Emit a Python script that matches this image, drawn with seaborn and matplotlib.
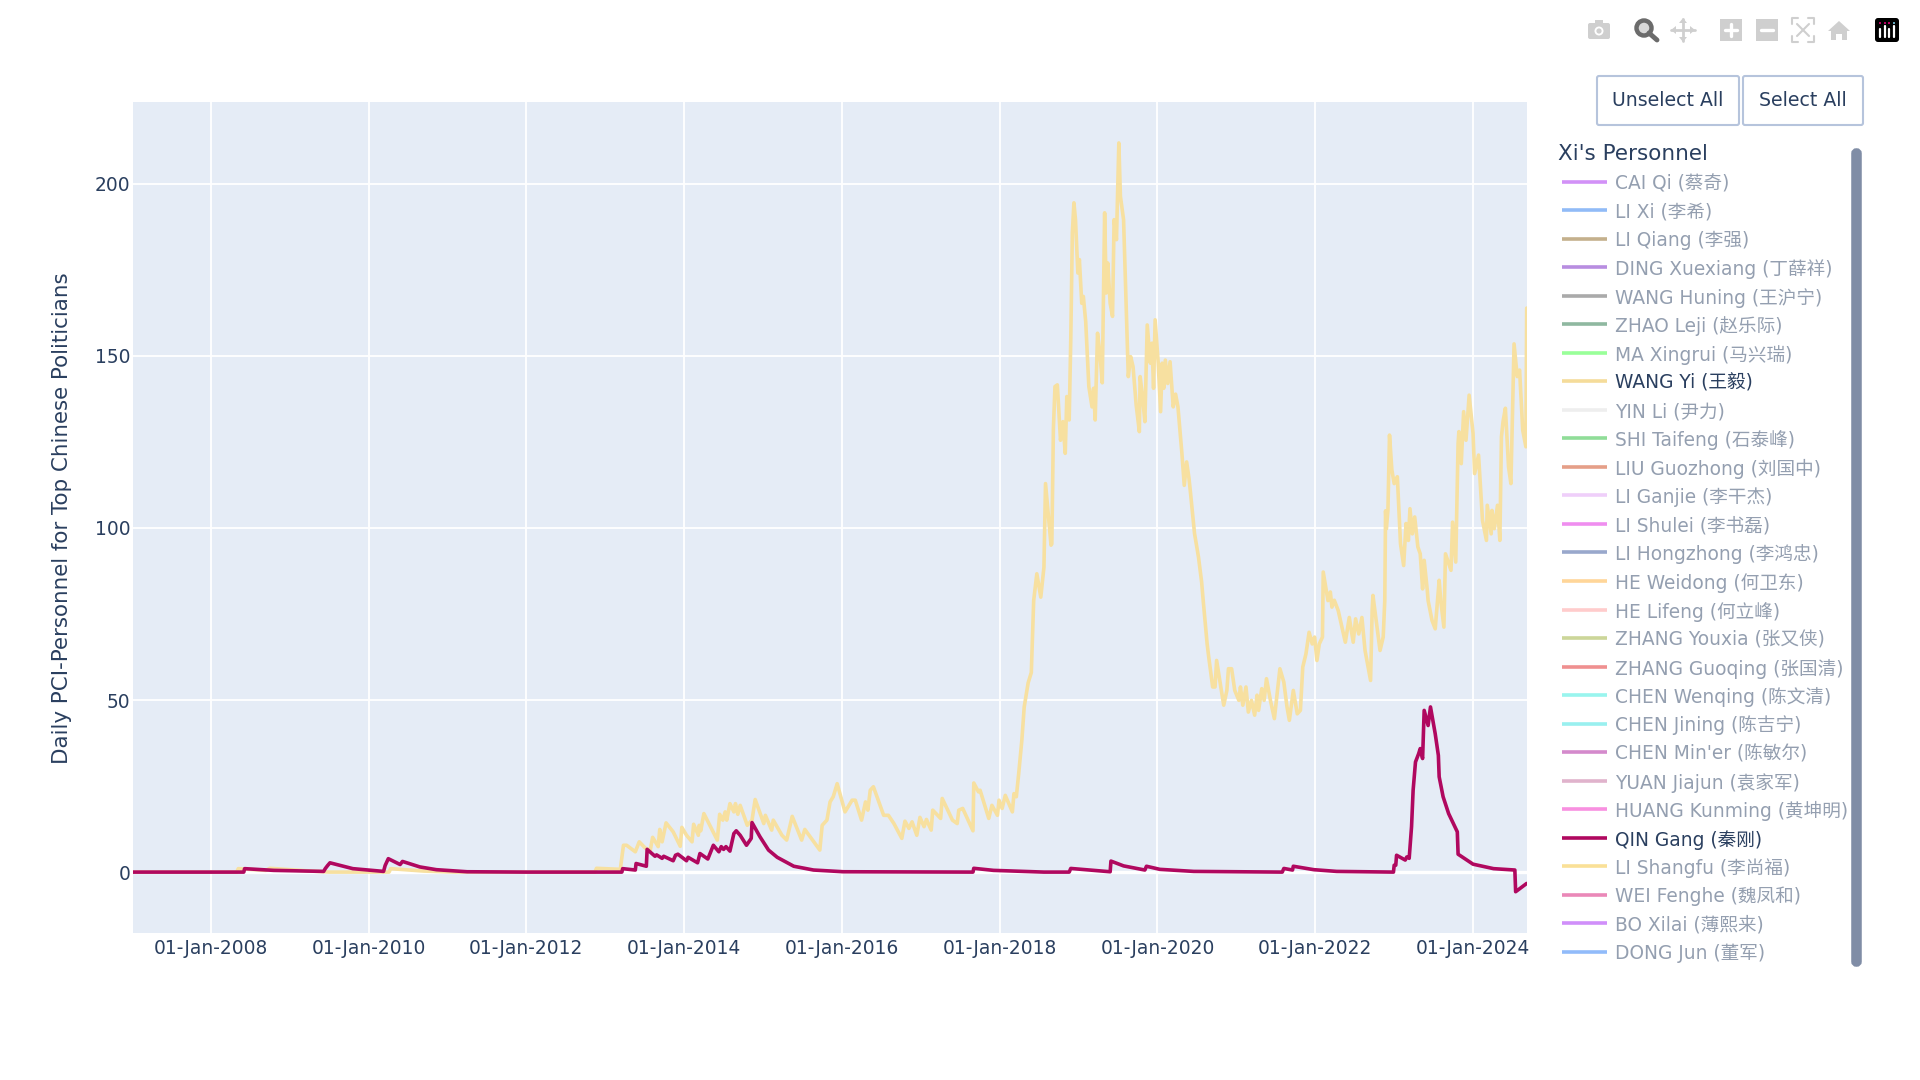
import pandas as pd
import matplotlib
matplotlib.use('Agg')
import matplotlib.pyplot as plt
import matplotlib.dates as mdates
from matplotlib.lines import Line2D
from matplotlib.patches import FancyBboxPatch, Rectangle, Circle, Polygon
import seaborn as sns

# values, x in decimal years
wang_yi_years = [2007.0, 2008.33, 2008.35, 2008.7, 2008.75, 2009.2, 2009.5, 2010.26, 2010.28, 2010.7, 2011.1, 2012.87,
    2012.89, 2013.19, 2013.23, 2013.27, 2013.38, 2013.43, 2013.51, 2013.57, 2013.60, 2013.67, 2013.69, 2013.72,
    2013.77, 2013.86, 2013.95, 2013.97, 2014.03, 2014.10, 2014.12, 2014.18, 2014.19, 2014.21, 2014.25, 2014.42,
    2014.45, 2014.49, 2014.52, 2014.54, 2014.58, 2014.63, 2014.65, 2014.68, 2014.71, 2014.80, 2014.86, 2014.90,
    2015.01, 2015.03, 2015.11, 2015.13, 2015.24, 2015.30, 2015.37, 2015.49, 2015.53, 2015.72, 2015.75, 2015.81,
    2015.85, 2015.89, 2015.94, 2016.04, 2016.13, 2016.17, 2016.25, 2016.30, 2016.33, 2016.36, 2016.40, 2016.53,
    2016.59, 2016.66, 2016.76, 2016.80, 2016.85, 2016.89, 2016.95, 2016.99, 2017.04, 2017.07, 2017.13, 2017.15,
    2017.25, 2017.27, 2017.40, 2017.46, 2017.48, 2017.53, 2017.66, 2017.67, 2017.73, 2017.75, 2017.86, 2017.90,
    2017.97, 2017.99, 2018.03, 2018.07, 2018.16, 2018.18, 2018.21, 2018.24, 2018.28, 2018.31, 2018.36, 2018.40,
    2018.43, 2018.47, 2018.52, 2018.56, 2018.58, 2018.65, 2018.66, 2018.68, 2018.70, 2018.73, 2018.77, 2018.80,
    2018.83, 2018.85, 2018.88, 2018.90, 2018.92, 2018.94, 2018.96, 2018.99, 2019.01, 2019.04, 2019.06, 2019.09,
    2019.13, 2019.17, 2019.19, 2019.21, 2019.24, 2019.27, 2019.30, 2019.32, 2019.33, 2019.35, 2019.37, 2019.40,
    2019.43, 2019.45, 2019.48, 2019.51, 2019.53, 2019.57, 2019.60, 2019.63, 2019.66, 2019.69, 2019.71, 2019.73,
    2019.77, 2019.78, 2019.81, 2019.84, 2019.87, 2019.91, 2019.93, 2019.95, 2019.97, 2020.01, 2020.04, 2020.06,
    2020.08, 2020.10, 2020.13, 2020.16, 2020.20, 2020.23, 2020.26, 2020.31, 2020.34, 2020.37, 2020.40, 2020.42,
    2020.47, 2020.52, 2020.56, 2020.58, 2020.63, 2020.65, 2020.70, 2020.73, 2020.75, 2020.79, 2020.84, 2020.88,
    2020.90, 2020.94, 2020.98, 2021.03, 2021.05, 2021.08, 2021.12, 2021.15, 2021.19, 2021.23, 2021.26, 2021.28,
    2021.32, 2021.35, 2021.38, 2021.43, 2021.48, 2021.51, 2021.55, 2021.60, 2021.64, 2021.67, 2021.72, 2021.77,
    2021.81, 2021.84, 2021.88, 2021.92, 2021.96, 2021.99, 2022.02, 2022.05, 2022.09, 2022.10, 2022.16, 2022.19,
    2022.21, 2022.24, 2022.29, 2022.38, 2022.43, 2022.48, 2022.51, 2022.55, 2022.59, 2022.63, 2022.70, 2022.72,
    2022.73, 2022.82, 2022.86, 2022.88, 2022.89, 2022.90, 2022.92, 2022.94, 2022.97, 2023.00, 2023.04, 2023.08,
    2023.12, 2023.15, 2023.18, 2023.20, 2023.23, 2023.26, 2023.30, 2023.33, 2023.36, 2023.38, 2023.42, 2023.43,
    2023.48, 2023.52, 2023.57, 2023.59, 2023.63, 2023.65, 2023.72, 2023.74, 2023.78, 2023.81, 2023.82, 2023.85,
    2023.88, 2023.91, 2023.95, 2024.00, 2024.02, 2024.07, 2024.12, 2024.17, 2024.18, 2024.23, 2024.24, 2024.27,
    2024.31, 2024.34, 2024.36, 2024.38, 2024.41, 2024.45, 2024.48, 2024.51, 2024.52, 2024.56, 2024.59, 2024.63,
    2024.67, 2024.68]
wang_yi_values = [0, 0, 1.0, 0.5, 1.1, 0.4, 0, 0, 1.0, 0.3, 0, 0,
    1.1, 0.8, 7.8, 7.8, 5.9, 8.8, 6.9, 6.4, 10.1, 7.4, 12.4, 8.8,
    14.3, 11.7, 7.5, 13.0, 10.7, 8.8, 13.9, 10.7, 13.6, 12.0, 17.0, 9.3,
    16.8, 15.1, 17.5, 15.1, 19.9, 17.5, 19.9, 16.8, 19.4, 13.6, 15.1, 21.1,
    14.1, 16.5, 12.2, 15.1, 10.7, 9.3, 16.2, 9.3, 12.4, 6.4, 13.6, 15.1,
    20.4, 21.9, 25.7, 17.5, 20.9, 20.9, 15.1, 20.4, 18.0, 23.8, 24.8, 16.5,
    16.5, 14.1, 9.8, 14.8, 12.7, 14.6, 10.7, 15.9, 13.2, 15.3, 12.2, 18.0,
    15.6, 21.4, 15.1, 14.1, 18.0, 18.5, 12.0, 25.9, 23.3, 23.8, 15.6, 19.4,
    16.5, 20.9, 18.5, 22.3, 17.5, 22.8, 21.9, 28.6, 38.3, 48, 55, 58,
    78.9, 86.7, 79.9, 88.6, 112.9, 95, 95.4, 128.9, 141.1, 141.6, 125.5, 130.9,
    121.7, 138.2, 131.4, 154.7, 185.7, 194.5, 189.6, 174.1, 178, 165.3, 167.3, 160,
    141.1, 135.2, 140.6, 131.4, 156.6, 150.8, 142.2, 176, 191.6, 168.3, 177, 165.3,
    161.5, 189.6, 183.8, 211.9, 196.4, 189.6, 167.3, 144, 149.8, 146.9, 141.1, 135.7,
    128, 144, 138.2, 130.9, 159, 147.9, 153.7, 140.6, 160.5, 147.9, 133.8, 147.9,
    140.6, 148.8, 142, 148.3, 135.2, 138.9, 135.2, 121.7, 112.4, 119.2, 114.4, 110,
    98.4, 91.6, 84.3, 78.9, 66.3, 62.5, 53.8, 53.8, 61.5, 55.7, 48.5, 52.8,
    59.1, 59.1, 52.8, 49.9, 53.8, 48.5, 53.8, 46.5, 49.9, 45.6, 51.4, 47,
    53.3, 49.9, 56.2, 49.9, 44.6, 50.9, 59.1, 55.2, 48, 44.1, 52.8, 46,
    47, 59.6, 63.4, 69.7, 66.3, 68.3, 61.5, 66.3, 68.3, 87.2, 78.9, 81.4,
    77, 79, 76, 66.8, 74, 66.8, 73.6, 69.2, 74, 64.4, 55.7, 76,
    80.4, 64.4, 68.3, 78.9, 105, 99.8, 105.1, 127, 116.8, 112.9, 114.9, 95.4,
    89.1, 101.3, 96.4, 105.6, 98.3, 103.2, 94.5, 92.5, 82.3, 90.6, 81.8, 78.9,
    73.1, 70.7, 84.8, 78.9, 71.2, 92.5, 87.7, 101.7, 90.1, 124.6, 128, 118.7,
    133.8, 125.5, 138.6, 127.5, 115.8, 121.2, 102.2, 96.4, 106.6, 98.3, 105.1, 99.8,
    106.6, 96.4, 126.5, 130.9, 134.8, 117.8, 112.9, 144, 153.5, 144, 145.9, 128.4,
    123.6, 163.9]

qin_gang_years = [2007.0, 2008.42, 2008.43, 2008.8, 2009.43, 2009.45, 2009.48, 2009.51, 2009.8, 2010.19, 2010.21,
    2010.25, 2010.40, 2010.43, 2010.65, 2010.86, 2011.25, 2012.0, 2013.21, 2013.22, 2013.38, 2013.39, 2013.52,
    2013.53, 2013.63, 2013.65, 2013.72, 2013.74, 2013.86, 2013.89, 2013.92, 2014.03, 2014.05, 2014.17, 2014.20,
    2014.30, 2014.37, 2014.44, 2014.47, 2014.50, 2014.53, 2014.58, 2014.63, 2014.66, 2014.71, 2014.79, 2014.85,
    2014.86, 2014.96, 2015.07, 2015.18, 2015.39, 2015.64, 2016.02, 2017.66, 2017.67, 2017.92, 2018.56, 2018.88,
    2018.90, 2019.40, 2019.41, 2019.57, 2019.84, 2019.86, 2020.03, 2020.46, 2021.58, 2021.60, 2021.71, 2021.72,
    2021.98, 2022.27, 2022.99, 2023.00, 2023.02, 2023.03, 2023.14, 2023.16, 2023.19, 2023.22, 2023.24, 2023.27,
    2023.31, 2023.33, 2023.36, 2023.38, 2023.43, 2023.46, 2023.52, 2023.56, 2023.57, 2023.62, 2023.69, 2023.80,
    2023.81, 2024.00, 2024.26, 2024.53, 2024.54, 2024.68]
qin_gang_values = [0, 0, 1.0, 0.5, 0.2, 1.0, 1.9, 2.7, 1.0, 0.2, 1.9,
    3.9, 2.2, 3.1, 1.5, 0.7, 0.1, 0, 0, 1.0, 0.6, 2.5, 1.7,
    6.6, 4.6, 5.0, 4.0, 4.6, 3.3, 4.9, 5.2, 3.3, 4.3, 2.7, 5.4,
    3.8, 7.8, 5.9, 7.4, 6.6, 7.4, 6.1, 11.2, 12.0, 10.7, 7.8, 9.8,
    14.4, 10.3, 6.4, 4.3, 1.7, 0.6, 0.1, 0, 1.1, 0.5, 0, 0,
    1.06, 0.1, 3.2, 1.8, 0.6, 1.7, 0.8, 0.2, 0, 1.06, 0.6, 1.7,
    0.7, 0.2, 0, 2.0, 2.0, 4.9, 3.5, 4.4, 4.0, 13.2, 23.8, 32,
    34.4, 35.9, 33, 47, 42.6, 48, 40.2, 33.9, 27.7, 21.9, 17, 11.7,
    5.2, 2.3, 1.0, 0.6, -5.7, -3.3]

legend_names = ['CAI Qi (蔡奇)', 'LI Xi (李希)', 'LI Qiang (李强)', 'DING Xuexiang (丁薛祥)', 'WANG Huning (王沪宁)',
    'ZHAO Leji (赵乐际)', 'MA Xingrui (马兴瑞)', 'WANG Yi (王毅)', 'YIN Li (尹力)', 'SHI Taifeng (石泰峰)',
    'LIU Guozhong (刘国中)', 'LI Ganjie (李干杰)', 'LI Shulei (李书磊)', 'LI Hongzhong (李鸿忠)', 'HE Weidong (何卫东)',
    'HE Lifeng (何立峰)', 'ZHANG Youxia (张又侠)', 'ZHANG Guoqing (张国清)', 'CHEN Wenqing (陈文清)', 'CHEN Jining (陈吉宁)',
    "CHEN Min'er (陈敏尔)", 'YUAN Jiajun (袁家军)', 'HUANG Kunming (黄坤明)', 'QIN Gang (秦刚)', 'LI Shangfu (李尚福)',
    'WEI Fenghe (魏凤和)', 'BO Xilai (薄熙来)', 'DONG Jun (董军)']
legend_colors = ['#d291f7', '#91bbf7', '#c4b08c', '#b88de0', '#aaaaaa', '#8fb8a0', '#99ff99', '#f5dc9a', '#eeeeee',
    '#90dd98', '#e59f88', '#efcffa', '#ef8eef', '#99a8cc', '#ffd699', '#ffcccc', '#ccd699', '#ef9090', '#99f5ee',
    '#99f0ef', '#d48acc', '#e0b3cc', '#f890e0', '#b0085f', '#fae097', '#ea88b8', '#d08ffa', '#91bbfa']
active_names = ['WANG Yi (王毅)', 'QIN Gang (秦刚)']
tick_years = [2008, 2010, 2012, 2014, 2016, 2018, 2020, 2022, 2024]
y_ticks = [0, 50, 100, 150, 200]

TEXT = '#2a3f5f'
FADED = '#949fb0'


def to_date(y):
    whole = int(y)
    return pd.Timestamp(whole, 1, 1) + pd.Timedelta(days=(y - whole) * 365.25)


df = pd.concat([
    pd.DataFrame({'date': [to_date(y) for y in wang_yi_years], 'pci': wang_yi_values, 'who': 'WANG Yi (王毅)'}),
    pd.DataFrame({'date': [to_date(y) for y in qin_gang_years], 'pci': qin_gang_values, 'who': 'QIN Gang (秦刚)'}),
])

sns.set_theme(style='darkgrid', rc={'axes.facecolor': '#e5ecf6', 'grid.color': 'white', 'grid.linewidth': 1.3})
plt.rcParams['font.family'] = ['DejaVu Sans', 'Noto Sans CJK SC']

fig = plt.figure(figsize=(19.2, 10.8), dpi=100, facecolor='white')
ax = fig.add_axes([133 / 1920, 1 - 933 / 1080, (1527 - 133) / 1920, (933 - 102) / 1080])

sns.lineplot(data=df, x='date', y='pci', hue='who', hue_order=active_names, sort=False, estimator=None,
             palette={'WANG Yi (王毅)': '#f7e0a0', 'QIN Gang (秦刚)': '#b0085f'}, linewidth=2.6, legend=False, ax=ax)

ax.axhline(0, color='white', lw=2.4, zorder=1)
ax.set_xlim(to_date(2007.015), to_date(2024.684))
ax.set_ylim(-17.7, 223.8)
ax.set_xticks([pd.Timestamp(y, 1, 1) for y in tick_years])
ax.xaxis.set_major_formatter(mdates.DateFormatter('%d-%b-%Y'))
ax.set_yticks(y_ticks)
ax.tick_params(length=0, labelsize=13.45, labelcolor=TEXT)
ax.tick_params(axis='x', pad=4)
ax.tick_params(axis='y', pad=2)
ax.set_xlabel('')
ax.set_ylabel('')
for s in ax.spines.values():
    s.set_visible(False)
fig.text(62.5 / 1920, 1 - 518 / 1080, 'Daily PCI-Personnel for Top Chinese Politicians', rotation=90,
         ha='center', va='center', fontsize=15.4, color=TEXT)

# overlay in pixel coordinates for the legend, buttons and toolbar
ov = fig.add_axes([0, 0, 1, 1], facecolor='none')
ov.set_xlim(0, 1920)
ov.set_ylim(1080, 0)
ov.axis('off')

ov.text(1558, 154, "Xi's Personnel", fontsize=15.5, color=TEXT, va='center')
for i, (name, col) in enumerate(zip(legend_names, legend_colors)):
    y = 181.7 + i * 28.52
    ov.add_line(Line2D([1562, 1607], [y, y], color=col, lw=2.6, solid_capstyle='butt'))
    ov.text(1615, y + 2, name, fontsize=13.4, color=TEXT if name in active_names else FADED, va='center')

ov.add_patch(FancyBboxPatch((1854, 151), 5, 813, boxstyle='round,pad=0,rounding_size=2.5', fc='#808da6', ec='#808da6', lw=4))

for x0, x1, label in [(1597, 1739, 'Unselect All'), (1743, 1863, 'Select All')]:
    ov.add_patch(FancyBboxPatch((x0, 76), x1 - x0, 49, boxstyle='round,pad=0,rounding_size=2', fc='white', ec='#b6c4dc', lw=1.5))
    ov.text((x0 + x1) / 2, 101, label, fontsize=13.6, color=TEXT, ha='center', va='center')

# toolbar icons
GREY = '#cfcfcf'
ov.add_patch(FancyBboxPatch((1588, 23), 22, 16, boxstyle='round,pad=0,rounding_size=2', fc=GREY, ec='none'))
ov.add_patch(Rectangle((1595, 20), 8, 4, fc=GREY, ec='none'))
ov.add_patch(Circle((1599, 31), 4.5, fc='white', ec='none'))
ov.add_patch(Circle((1599, 31), 2.6, fc=GREY, ec='none'))
ov.add_patch(Circle((1644, 28), 7.5, fc='#d8d8d8', ec='#6b6b6b', lw=3.2))
ov.add_line(Line2D([1649, 1657], [33, 40], color='#6b6b6b', lw=3.5))
ov.add_line(Line2D([1671, 1695], [30, 30], color=GREY, lw=2))
ov.add_line(Line2D([1683, 1683], [19, 41], color=GREY, lw=2))
for a, b, c in [((1683, 18), (1679, 23), (1687, 23)), ((1683, 42), (1679, 37), (1687, 37)),
                ((1671, 30), (1676, 26), (1676, 34)), ((1695, 30), (1690, 26), (1690, 34))]:
    ov.add_patch(Polygon([a, b, c], fc=GREY, ec='none'))
for x, plus in [(1720, True), (1756, False)]:
    ov.add_patch(Rectangle((x, 19), 22, 22, fc=GREY, ec='none'))
    ov.add_line(Line2D([x + 5, x + 17], [30, 30], color='white', lw=2.4))
    if plus:
        ov.add_line(Line2D([x + 11, x + 11], [24, 36], color='white', lw=2.4))
for xs, ys in [([1792, 1792, 1798], [24, 18, 18]), ([1808, 1814, 1814], [18, 18, 24]),
               ([1792, 1792, 1798], [36, 42, 42]), ([1808, 1814, 1814], [42, 42, 36]),
               ([1797, 1809], [24, 36]), ([1809, 1797], [24, 36])]:
    ov.add_line(Line2D(xs, ys, color=GREY, lw=1.5))
ov.add_patch(Polygon([(1828, 31), (1839, 21), (1850, 31), (1847, 31), (1847, 40), (1842, 40), (1842, 34),
                      (1836, 34), (1836, 40), (1831, 40), (1831, 31)], fc=GREY, ec='none'))
ov.add_patch(FancyBboxPatch((1877, 20), 20, 20, boxstyle='round,pad=2,rounding_size=3', fc='black', ec='none'))
for x, top in [(1880, 29), (1885, 26), (1889, 29), (1894, 26)]:
    ov.add_line(Line2D([x, x], [top, 37], color='white', lw=1.6))
for x, col in [(1880, '#e6007e'), (1885, '#e6007e'), (1889, '#e6007e'), (1894, '#7fd4f0')]:
    ov.add_patch(Circle((x, 23), 1, fc=col, ec='none'))

fig.savefig('out.png', dpi=100)
